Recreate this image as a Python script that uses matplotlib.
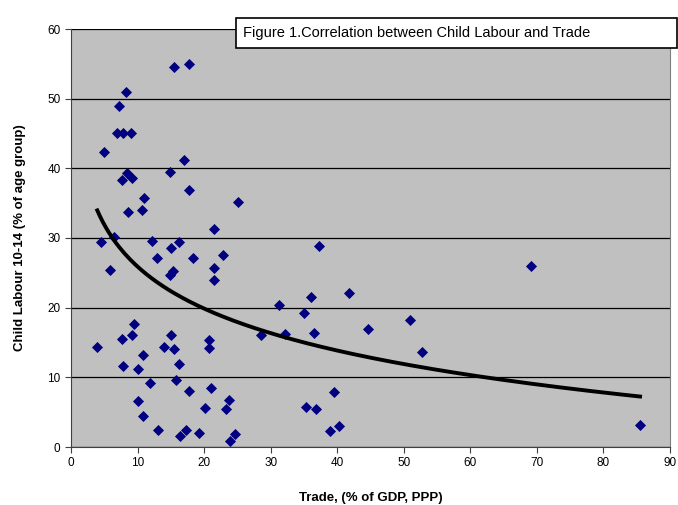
import numpy as np
import matplotlib
matplotlib.use("Agg")
import matplotlib.pyplot as plt
from matplotlib.patches import Rectangle

plt.rcParams['font.family'] = ['Liberation Sans', 'DejaVu Sans']

# Trade (% of GDP, PPP) vs child labour 10-14 (% of age group)
trade = [15.5, 17.7, 8.3, 7.25, 6.9, 7.8, 9.0, 5.0, 17.0, 14.9, 7.6, 8.4, 9.1,
         17.7, 11.0, 25.1, 8.5, 10.7, 21.5, 4.5, 6.5, 12.2, 15.0, 16.3, 12.9,
         18.3, 22.9, 5.9, 15.3, 14.9, 21.5, 21.5, 9.5, 7.7, 9.2, 3.95, 15.1,
         13.9, 15.5, 20.7, 20.7, 10.8, 16.3, 7.8, 10.1, 11.8, 15.8, 17.7, 21.1,
         10.0, 23.7, 23.3, 20.1, 10.8, 13.1, 16.4, 17.3, 19.3, 23.9, 24.7,
         37.3, 31.2, 36.1, 41.8, 35.0, 28.6, 32.2, 36.5, 44.6, 39.5, 35.3,
         36.8, 40.2, 38.9, 51.0, 52.8, 69.1, 85.5]
child_labour = [54.5, 55.0, 51.0, 48.9, 45.1, 45.1, 45.1, 42.3, 41.2, 39.5, 38.3,
                39.3, 38.6, 36.9, 35.8, 35.2, 33.8, 34.0, 31.3, 29.4, 30.2, 29.5,
                28.6, 29.4, 27.1, 27.1, 27.5, 25.4, 25.3, 24.7, 25.7, 23.9, 17.6,
                15.5, 16.1, 14.4, 16.1, 14.3, 14.0, 15.3, 14.2, 13.2, 11.9, 11.6,
                11.2, 9.2, 9.6, 8.0, 8.5, 6.6, 6.7, 5.4, 5.6, 4.5, 2.4, 1.6, 2.4,
                2.05, 0.9, 1.9, 28.8, 20.4, 21.6, 22.1, 19.2, 16.1, 16.2, 16.3,
                16.9, 7.85, 5.7, 5.45, 3.0, 2.3, 18.3, 13.7, 26.0, 3.2]

x = np.array(trade)
y = np.array(child_labour)

fig = plt.figure(figsize=(6.78, 5.05), dpi=100)
ax = fig.add_axes([71/678, 1-447/505, (670-71)/678, (447-29)/505])
ax.set_facecolor('#C0C0C0')

ax.scatter(x, y, marker='D', s=32, color='#000080', zorder=3, linewidths=0)

# logarithmic trend line, as Excel does it
b, a = np.polyfit(np.log(x), y, 1)
xt = np.linspace(x.min(), x.max(), 200)
ax.plot(xt, a + b*np.log(xt), color='black', lw=2.8, zorder=4)

ax.set_xlim(0, 90)
ax.set_ylim(0, 60)
ax.set_xticks(range(0, 91, 10))
ax.set_yticks(range(0, 61, 10))
ax.yaxis.grid(True, color='black', lw=0.9)
ax.set_axisbelow(True)
ax.spines['top'].set_visible(False)
ax.spines['right'].set_color('#808080')
ax.spines['left'].set_color('#404040')
ax.spines['bottom'].set_color('#404040')
ax.tick_params(axis='both', labelsize=8.5, direction='out', length=4, color='#404040')
ax.set_xlabel('Trade, (% of GDP, PPP)', fontsize=9.5, fontweight='bold', labelpad=16)
ax.set_ylabel('Child Labour 10-14 (% of age group)', fontsize=9.5, fontweight='bold', labelpad=15)

# title box at the top right
fig.patches.append(Rectangle((236/678, 1-48/505), (677-236)/678, 30/505,
                             transform=fig.transFigure, facecolor='white',
                             edgecolor='black', lw=1.2, zorder=5))
fig.text(243/678, 1-33/505, 'Figure 1.Correlation between Child Labour and Trade',
         fontsize=10.5, va='center', ha='left', zorder=6)

fig.savefig('out.png', dpi=100)
